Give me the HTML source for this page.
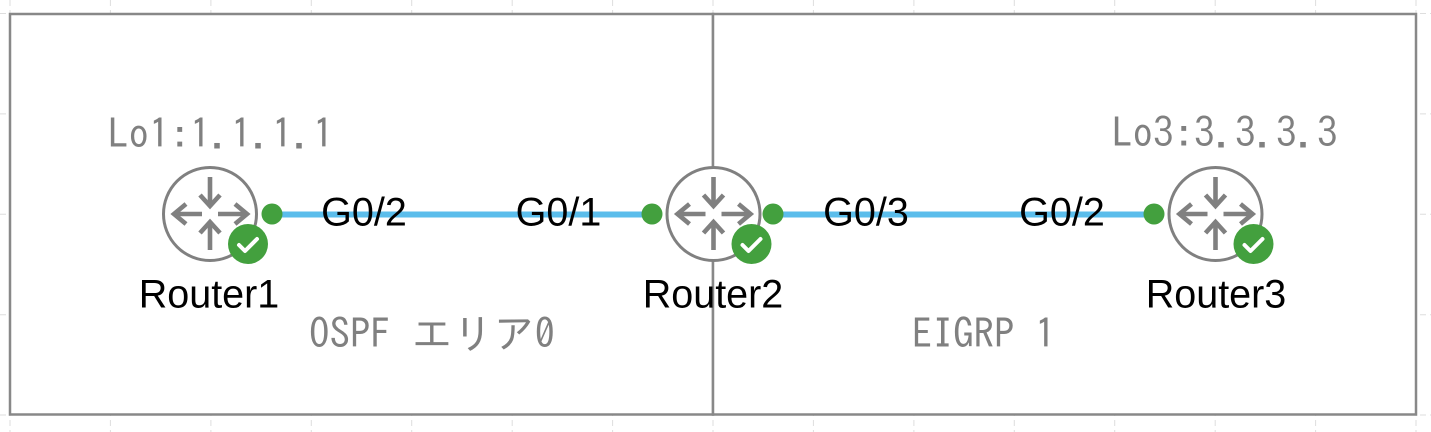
<!DOCTYPE html>
<html>
<head>
<meta charset="utf-8">
<style>
  html, body { margin: 0; padding: 0; background: #ffffff; }
  body { width: 1431px; height: 432px; overflow: hidden; }
  svg { display: block; }
  .mono { font-family: "IPAGothic", "Noto Sans CJK JP", "Liberation Mono", monospace; font-size: 41px; fill: #808080; }
  .lbl { font-family: "Liberation Sans", Arial, sans-serif; font-size: 39.5px; fill: #000000; }
</style>
</head>
<body>
<svg width="1431" height="432" viewBox="0 0 1431 432" xmlns="http://www.w3.org/2000/svg">
  <!-- faint background grid -->
  <g stroke="#dedede" stroke-width="1" stroke-dasharray="6 4">
    <line x1="10" y1="0" x2="10" y2="432"/>
    <line x1="110.4" y1="0" x2="110.4" y2="432"/>
    <line x1="210.9" y1="0" x2="210.9" y2="432"/>
    <line x1="311.3" y1="0" x2="311.3" y2="432"/>
    <line x1="411.7" y1="0" x2="411.7" y2="432"/>
    <line x1="512.2" y1="0" x2="512.2" y2="432"/>
    <line x1="612.6" y1="0" x2="612.6" y2="432"/>
    <line x1="713" y1="0" x2="713" y2="432"/>
    <line x1="813.4" y1="0" x2="813.4" y2="432"/>
    <line x1="913.9" y1="0" x2="913.9" y2="432"/>
    <line x1="1014.3" y1="0" x2="1014.3" y2="432"/>
    <line x1="1114.7" y1="0" x2="1114.7" y2="432"/>
    <line x1="1215.2" y1="0" x2="1215.2" y2="432"/>
    <line x1="1315.6" y1="0" x2="1315.6" y2="432"/>
    <line x1="1416" y1="0" x2="1416" y2="432"/>
    <line x1="0" y1="13.5" x2="1431" y2="13.5"/>
    <line x1="0" y1="113.9" x2="1431" y2="113.9"/>
    <line x1="0" y1="214.3" x2="1431" y2="214.3"/>
    <line x1="0" y1="314.7" x2="1431" y2="314.7"/>
    <line x1="0" y1="415" x2="1431" y2="415"/>
  </g>

  <!-- area boxes -->
  <rect x="10" y="14" width="703" height="400.5" fill="#ffffff" stroke="#888888" stroke-width="2.5"/>
  <rect x="713" y="14" width="703" height="400.5" fill="#ffffff" stroke="#888888" stroke-width="2.5"/>

  <!-- links -->
  <line x1="272" y1="214.5" x2="652" y2="214.5" stroke="#5bbdeb" stroke-width="6"/>
  <line x1="773" y1="214.5" x2="1154" y2="214.5" stroke="#5bbdeb" stroke-width="6"/>

  <!-- port dots -->
  <g fill="#43a03e">
    <circle cx="272" cy="214" r="10.5"/>
    <circle cx="652" cy="214" r="10.5"/>
    <circle cx="773" cy="214" r="10.5"/>
    <circle cx="1154" cy="214" r="10.5"/>
  </g>

  <defs>
    <g id="router">
      <circle cx="0" cy="0" r="46.5" fill="#ffffff" stroke="#808080" stroke-width="3"/>
      <g stroke="#808080" stroke-width="4.6" fill="none" stroke-linejoin="miter">
        <line x1="0" y1="-37" x2="0" y2="-10"/>
        <polyline points="-10,-19 0,-8 10,-19"/>
        <line x1="0" y1="36" x2="0" y2="10"/>
        <polyline points="-10,19 0,8 10,19"/>
        <line x1="-8" y1="0" x2="-34" y2="0"/>
        <polyline points="-24,-10 -36,0 -24,10"/>
        <line x1="8" y1="0" x2="35" y2="0"/>
        <polyline points="25,-10 37,0 25,10"/>
      </g>
      <circle cx="38" cy="30" r="20" fill="#43a03e"/>
      <polyline points="29,31 35,37 47,25" fill="none" stroke="#ffffff" stroke-width="4" stroke-linecap="round" stroke-linejoin="round"/>
    </g>
  </defs>

  <use href="#router" x="210" y="214"/>
  <use href="#router" x="713.5" y="214"/>
  <use href="#router" x="1215.5" y="214"/>

  <!-- loopback labels -->
  <text class="mono" x="108" y="148.5">Lo1:1.1.1.1</text>
  <text class="mono" x="1112" y="147.5">Lo3:3.3.3.3</text>

  <!-- interface labels -->
  <text class="lbl" x="364" y="225.5" text-anchor="middle">G0/2</text>
  <text class="lbl" x="558.5" y="225.5" text-anchor="middle">G0/1</text>
  <text class="lbl" x="866" y="225.5" text-anchor="middle">G0/3</text>
  <text class="lbl" x="1062" y="225.5" text-anchor="middle">G0/2</text>

  <!-- router names -->
  <text class="lbl" x="209" y="307.5" text-anchor="middle">Router1</text>
  <text class="lbl" x="713" y="307.5" text-anchor="middle">Router2</text>
  <text class="lbl" x="1216" y="307.5" text-anchor="middle">Router3</text>

  <!-- area labels -->
  <text class="mono" x="309" y="348.5">OSPF エリア0</text>
  <text class="mono" x="912" y="348.5">EIGRP 1</text>
</svg>
</body>
</html>
